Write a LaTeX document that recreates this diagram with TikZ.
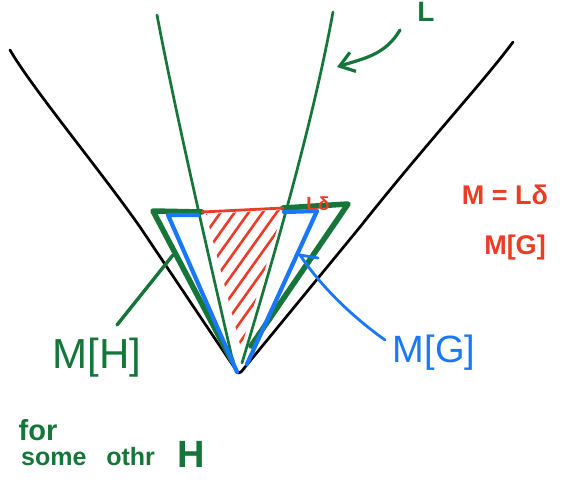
\documentclass[tikz,border=0pt]{standalone}
\usepackage{fontspec}
\setmainfont{Liberation Sans}
\usetikzlibrary{arrows.meta}
\definecolor{hgreen}{RGB}{22,118,58}
\definecolor{hblue}{RGB}{25,120,250}
\definecolor{hred}{RGB}{236,60,40}
\tikzset{
  pen/.style={line cap=round,line join=round},
  blackline/.style={pen,black,line width=2.7pt},
  thingreen/.style={pen,hgreen,line width=2.7pt},
  thickgreen/.style={pen,hgreen,line width=5.5pt},
  bluepen/.style={pen,hblue,line width=4.2pt},
  redpen/.style={pen,hred,line width=2.8pt},
  hatch/.style={pen,hred,line width=2.6pt},
  lbl/.style={inner sep=0pt,anchor=center},
}
\begin{document}
\begin{tikzpicture}[x=1pt,y=-1pt]
\path[use as bounding box,fill=white] (0,0) rectangle (563,482);

% black curves
\coordinate (bl0) at (10,50);
\coordinate (bl1) at (140,227);
\coordinate (apex) at (238,373);
\coordinate (br1) at (360,227);
\coordinate (br0) at (513,42);
\draw[blackline] (bl0) .. controls (32,88) and (100,170) .. (bl1) -- (236,370) -- (apex) -- (241,372) -- (br1) .. controls (425,145) and (485,80) .. (br0);

% red hatching
\begin{scope}
\clip (206,214) -- (283,210) -- (241,348) -- cycle;
\foreach \k in {0,...,16}{
  \draw[hatch] ({212+14*\k},205) -- ({212+14*\k-110},{205+154});
}
\end{scope}

% thin green lines L
\coordinate (gl0) at (157,15);
\coordinate (gl1) at (233,362);
\coordinate (gr0) at (333,12);
\coordinate (gr1) at (242,363);
\draw[thingreen] (gl0) .. controls (175,110) and (205,240) .. (gl1);
\draw[thingreen] (gr0) .. controls (315,110) and (285,220) .. (gr1);

% thick green triangle
\coordinate (tgl) at (153,211);
\coordinate (tgm) at (202,212);
\coordinate (tgr0) at (283,208);
\coordinate (tgr) at (348,204);
\draw[thickgreen] (tgm) -- (tgl) -- (232,361);
\draw[thickgreen] (tgr0) -- (tgr) -- (251,346);

% blue triangle
\coordinate (btl) at (168,215);
\coordinate (btr) at (317,211);
\draw[bluepen] (198,215) -- (btl) -- (237,372);
\draw[bluepen] (284,212) -- (btr) -- (247,364);

% red top
\draw[redpen] (tgm) -- (tgr0);
\node[lbl,text=hred,font=\bfseries\fontsize{19}{19}\selectfont] (ld) at (318,204) {Lδ};

% L label and arrow
\node[lbl,text=hgreen,font=\bfseries\fontsize{28}{28}\selectfont] (Lab) at (426,12) {L};
\coordinate (la0) at (400,30);
\coordinate (la1) at (337,67);
\draw[thingreen,line width=3.2pt,-{Straight Barb[length=14pt,width=20pt,line width=3.2pt]}] (la0) .. controls (385,55) and (365,58) .. (la1);

% M[H] label and pointer
\node[lbl,text=hgreen,font=\fontsize{42}{42}\selectfont] (MH) at (97,358) {M[H]};
\coordinate (mh0) at (117,325);
\coordinate (mh1) at (173,255);
\draw[thingreen,line width=3.4pt] (mh0) -- (mh1);

% M[G] blue label and pointer
\node[lbl,text=hblue,font=\fontsize{38}{38}\selectfont] (MGb) at (434,353) {M[G]};
\coordinate (mg0) at (385,340);
\coordinate (mg1) at (300,255);
\coordinate (mg2) at (318,258);
\draw[bluepen,line width=2.8pt] (mg0) .. controls (350,315) and (320,285) .. (mg1) -- (mg2);

% red labels
\node[lbl,text=hred,font=\bfseries\fontsize{27}{27}\selectfont] (eq) at (505,195) {M = Lδ};
\node[lbl,text=hred,font=\bfseries\fontsize{27}{27}\selectfont] (MGr) at (515,248) {M[G]};

% bottom text
\node[lbl,text=hgreen,font=\bfseries\fontsize{29}{29}\selectfont] (for) at (38,430) {for};
\node[lbl,text=hgreen,font=\bfseries\fontsize{25}{25}\selectfont] (some) at (88,457) {some \hspace{6pt} othr};
\node[lbl,text=hgreen,font=\bfseries\fontsize{38}{38}\selectfont] (oh) at (191,454) {H};
\end{tikzpicture}
\end{document}
